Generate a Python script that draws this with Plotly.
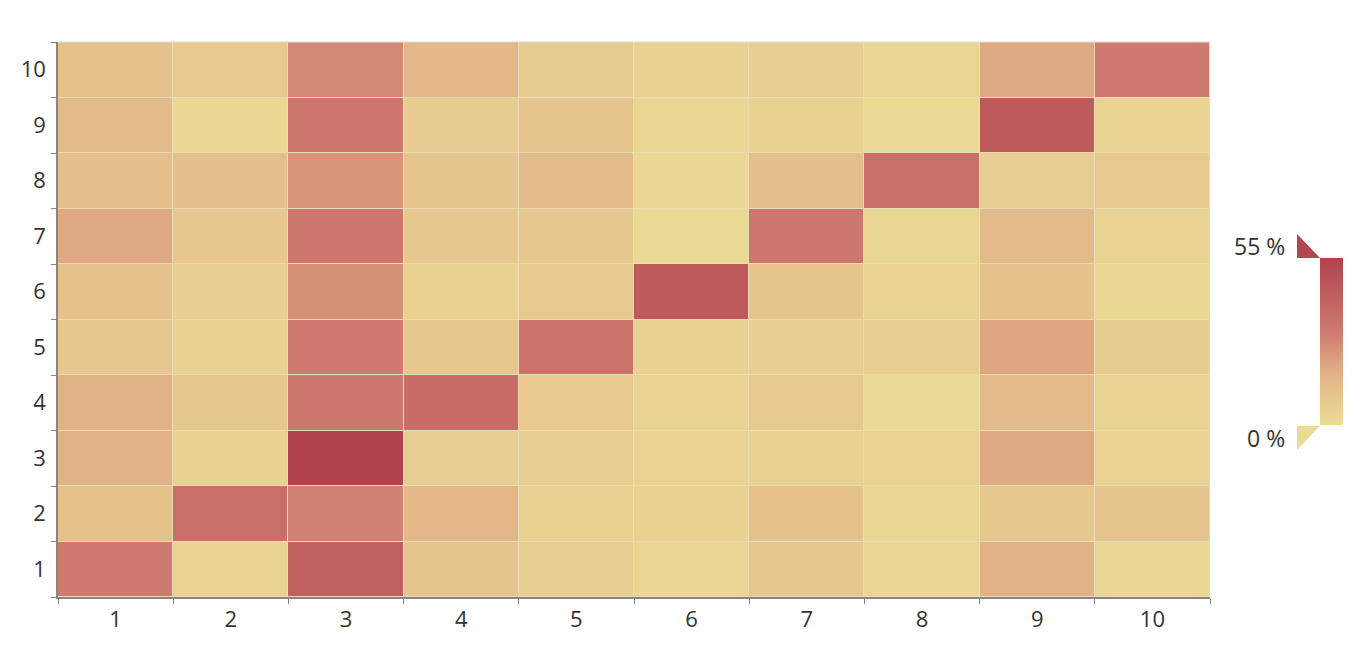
import plotly.graph_objects as go

# Heatmap values in percent, rows from y=1 (bottom) to y=10 (top)
x_labels = ["1", "2", "3", "4", "5", "6", "7", "8", "9", "10"]
y_labels = ["1", "2", "3", "4", "5", "6", "7", "8", "9", "10"]

row_1 = [31, 4, 42, 10, 6, 3, 9, 3, 17, 3]
row_2 = [11, 36, 29, 15, 5, 5, 11, 3, 9, 10]
row_3 = [17, 5, 55, 6, 6, 4, 5, 4, 19, 4]
row_4 = [17, 9, 33, 37, 8, 4, 8, 1, 14, 4]
row_5 = [9, 5, 31, 9, 34, 5, 6, 6, 20, 7]
row_6 = [11, 6, 25, 5, 8, 45, 10, 4, 11, 2]
row_7 = [19, 9, 33, 9, 9, 1, 33, 3, 14, 4]
row_8 = [12, 12, 24, 10, 14, 2, 12, 36, 6, 8]
row_9 = [14, 2, 33, 7, 10, 3, 5, 1, 45, 4]
row_10 = [11, 8, 27, 15, 7, 5, 6, 3, 19, 31]

z_min, z_max = 0, 55

COLORSCALE = [
    [0.0, "#ebdd95"],
    [0.3, "#e2b487"],
    [0.55, "#cf7c70"],
    [1.0, "#b0434e"],
]

# the page body adds an 8px offset, so work in a slightly smaller figure
OFF = 8
W, H = 1366 - 2 * OFF, 657 - 2 * OFF
# plot area in figure pixels
L, R, T, B = 58 - OFF, 1210 - OFF, 42 - OFF, 597 - OFF


def px(x):
    # screen x -> paper
    return (x - OFF - L) / (R - L)


def py(y):
    # screen y -> paper
    return (B - (y - OFF)) / (B - T)


z = [row_1, row_2, row_3, row_4, row_5, row_6, row_7, row_8, row_9, row_10]

fig = go.Figure(go.Heatmap(
    x=x_labels,
    y=y_labels,
    z=z,
    zmin=z_min,
    zmax=z_max,
    colorscale=COLORSCALE,
    xgap=1,
    ygap=1,
    hovertemplate="x: %{x}<br>y: %{y}<br>%{z} %<extra></extra>",
    colorbar=dict(
        x=px(1320), xanchor="left", xpad=0,
        y=py(341.5), yanchor="middle", ypad=0,
        len=167, lenmode="pixels",
        thickness=23, thicknessmode="pixels",
        outlinewidth=0,
        showticklabels=False,
        ticks="",
    ),
))

# visualMap-style handles and labels
fig.add_shape(type="path", xref="paper", yref="paper",
              path=f"M {px(1297)},{py(234)} L {px(1297)},{py(258)} L {px(1320)},{py(258)} Z",
              fillcolor="#b3474f", line=dict(width=0))
fig.add_shape(type="path", xref="paper", yref="paper",
              path=f"M {px(1297)},{py(426)} L {px(1320)},{py(426)} L {px(1297)},{py(450)} Z",
              fillcolor="#e9dc94", line=dict(width=0))
fig.add_annotation(x=px(1287), y=py(246), xref="paper", yref="paper",
                   text=f"{z_max} %", showarrow=False, xanchor="right", yanchor="middle",
                   font=dict(size=23, color="#333333"))
fig.add_annotation(x=px(1287), y=py(438), xref="paper", yref="paper",
                   text=f"{z_min} %", showarrow=False, xanchor="right", yanchor="middle",
                   font=dict(size=23, color="#333333"))
# faint top border
fig.add_shape(type="line", xref="paper", yref="paper", x0=0, x1=1, y0=1, y1=1,
              line=dict(color="#dddddd", width=1))

axis_style = dict(
    type="category",
    tickson="boundaries",
    ticks="outside",
    ticklen=5,
    tickcolor="#8a8580",
    showline=True,
    linecolor="#8a8580",
    linewidth=1.5,
    showgrid=False,
    zeroline=False,
    tickfont=dict(size=22, color="#333333"),
)

fig.update_layout(
    width=W,
    height=H,
    margin=dict(l=L, r=W - R, t=T, b=H - B),
    font=dict(family="Open Sans, sans-serif", color="#333333"),
    plot_bgcolor="#eadbb8",
    paper_bgcolor="white",
    xaxis=dict(axis_style, ticklabelstandoff=2),
    yaxis=dict(axis_style, ticklabelstandoff=6),
)

fig.write_html("out.html")
